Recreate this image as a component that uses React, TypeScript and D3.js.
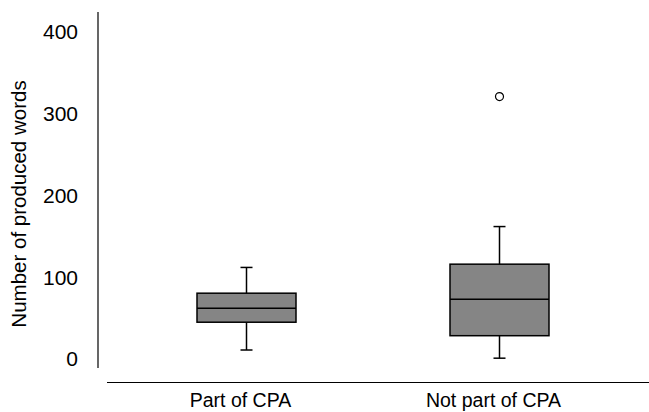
import React, { useEffect, useRef } from 'react';
import * as d3 from 'd3';

const groups = ['Part of CPA', 'Not part of CPA'];
const whiskerLow = [11, 1];
const quartile1 = [45, 28.5];
const medians = [62, 73];
const quartile3 = [80.5, 116];
const whiskerHigh = [112, 162];
const outliers = [[], [321]];
const yTicks = [0, 100, 200, 300, 400];

const App = () => {
  const ref = useRef(null);

  useEffect(() => {
    const width = 649;
    const font = 'Liberation Sans, Arial, sans-serif';

    const svg = d3.select(ref.current);
    svg.selectAll('*').remove();

    const x = d3.scaleBand().domain(groups).range([120, 626]);
    const y = d3.scaleLinear().domain([0, 400]).range([359, 32]);
    const boxW = 99;
    const capW = 12;

    // axes lines
    svg.append('line')
      .attr('x1', 98).attr('x2', 98).attr('y1', 12).attr('y2', 368)
      .attr('stroke', '#000').attr('stroke-width', 1.2);
    svg.append('line')
      .attr('x1', 107).attr('x2', width).attr('y1', 382.5).attr('y2', 382.5)
      .attr('stroke', '#000').attr('stroke-width', 1.2);

    // y tick labels
    svg.selectAll('.ytick')
      .data(yTicks)
      .enter()
      .append('text')
      .attr('x', 78)
      .attr('y', (d) => y(d))
      .attr('dy', '0.35em')
      .attr('text-anchor', 'end')
      .style('font-family', font)
      .style('font-size', '21px')
      .text((d) => d);

    // y title
    svg.append('text')
      .attr('transform', 'translate(26,204) rotate(-90)')
      .attr('text-anchor', 'middle')
      .style('font-family', font)
      .style('font-size', '20.5px')
      .text('Number of produced words');

    // x labels
    svg.selectAll('.xlab')
      .data(groups)
      .enter()
      .append('text')
      .attr('x', (d) => x(d) + x.bandwidth() / 2 - 6)
      .attr('y', 407)
      .attr('text-anchor', 'middle')
      .style('font-family', font)
      .style('font-size', '19.5px')
      .text((d) => d);

    const boxes = svg.selectAll('.box')
      .data(groups.map((g, i) => ({
        g,
        lo: whiskerLow[i],
        q1: quartile1[i],
        med: medians[i],
        q3: quartile3[i],
        hi: whiskerHigh[i],
        out: outliers[i],
      })))
      .enter()
      .append('g')
      .attr('transform', (d) => `translate(${x(d.g) + x.bandwidth() / 2},0)`);

    // whiskers
    boxes.append('line')
      .attr('x1', 0).attr('x2', 0)
      .attr('y1', (d) => y(d.lo)).attr('y2', (d) => y(d.hi))
      .attr('stroke', '#000').attr('stroke-width', 1.5);
    boxes.append('line')
      .attr('x1', -capW / 2).attr('x2', capW / 2)
      .attr('y1', (d) => y(d.hi)).attr('y2', (d) => y(d.hi))
      .attr('stroke', '#000').attr('stroke-width', 1.5);
    boxes.append('line')
      .attr('x1', -capW / 2).attr('x2', capW / 2)
      .attr('y1', (d) => y(d.lo)).attr('y2', (d) => y(d.lo))
      .attr('stroke', '#000').attr('stroke-width', 1.5);

    // box
    boxes.append('rect')
      .attr('x', -boxW / 2)
      .attr('width', boxW)
      .attr('y', (d) => y(d.q3))
      .attr('height', (d) => y(d.q1) - y(d.q3))
      .attr('fill', '#858585')
      .attr('stroke', '#000')
      .attr('stroke-width', 1.5);

    // median
    boxes.append('line')
      .attr('x1', -boxW / 2).attr('x2', boxW / 2)
      .attr('y1', (d) => y(d.med)).attr('y2', (d) => y(d.med))
      .attr('stroke', '#000').attr('stroke-width', 1.5);

    // outliers
    boxes.selectAll('circle')
      .data((d) => d.out)
      .enter()
      .append('circle')
      .attr('cx', 0)
      .attr('cy', (d) => y(d))
      .attr('r', 4)
      .attr('fill', '#fff')
      .attr('stroke', '#000')
      .attr('stroke-width', 1.2);
  }, []);

  return <svg ref={ref} width={649} height={412} style={{ position: 'absolute', left: 0, top: 0 }} />;
};

export default App;
